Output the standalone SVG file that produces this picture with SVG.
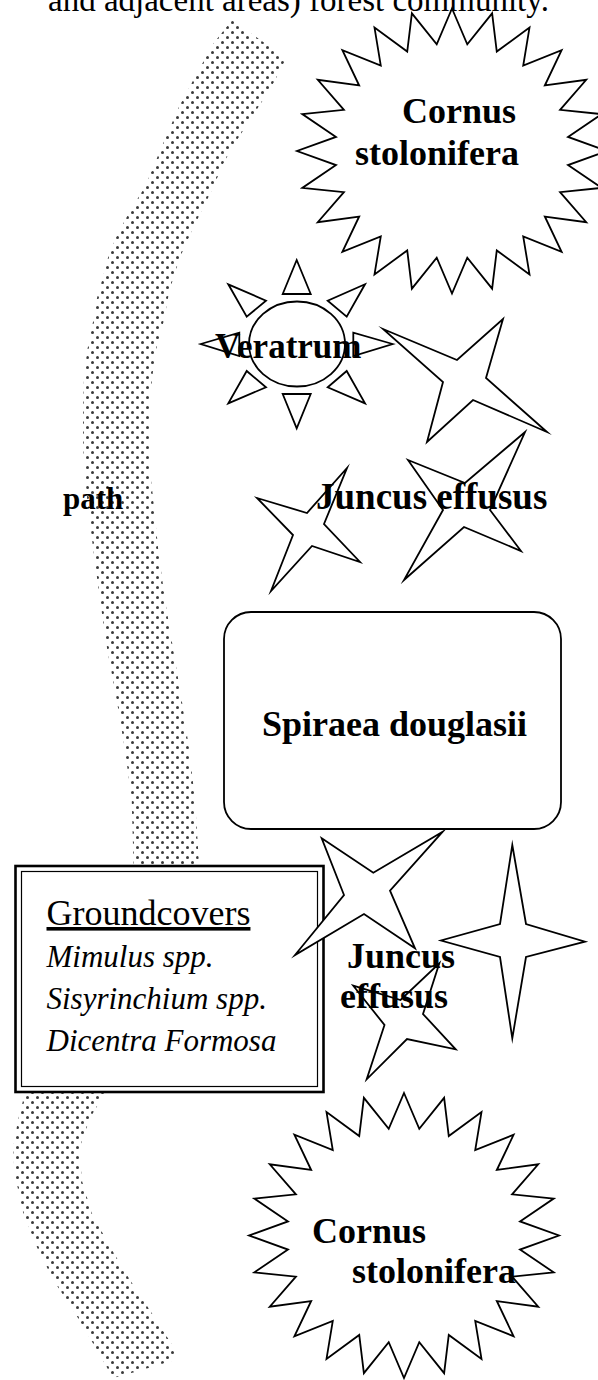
<svg xmlns="http://www.w3.org/2000/svg" xmlns:xlink="http://www.w3.org/1999/xlink" width="598" height="1380" viewBox="0 0 598 1380">
<style>
.sh{fill:#fff;stroke:#000;stroke-width:1.8;stroke-linejoin:miter;stroke-miterlimit:10}
.lb{font-family:"Liberation Serif","Times New Roman",serif;font-weight:bold;fill:#000}
.rg{font-family:"Liberation Serif","Times New Roman",serif;fill:#000}
.it{font-family:"Liberation Serif","Times New Roman",serif;font-style:italic;fill:#000}
</style>
<defs>
<pattern id="dots" width="10" height="10" patternUnits="userSpaceOnUse">
<circle cx="2.5" cy="2.5" r="1.5" fill="#3a3a3a"/>
<circle cx="7.5" cy="7.5" r="1.5" fill="#3a3a3a"/>
</pattern>
<polygon id="burst" points="0,-142.5 15.27,-106.68 40.12,-137.65 44.77,-99.41 77.5,-123.41 71.22,-85.36 109.6,-100.76 92.82,-65.5 134.23,-71.25 108.09,-41.18 149.72,-36.88 116,-14.05 155,0 116,14.05 149.72,36.88 108.09,41.18 134.23,71.25 92.82,65.5 109.6,100.76 71.22,85.36 77.5,123.41 44.77,99.41 40.12,137.65 15.27,106.68 0,142.5 -15.27,106.68 -40.12,137.65 -44.77,99.41 -77.5,123.41 -71.22,85.36 -109.6,100.76 -92.82,65.5 -134.23,71.25 -108.09,41.18 -149.72,36.88 -116,14.05 -155,0 -116,-14.05 -149.72,-36.88 -108.09,-41.18 -134.23,-71.25 -92.82,-65.5 -109.6,-100.76 -71.22,-85.36 -77.5,-123.41 -44.77,-99.41 -40.12,-137.65 -15.27,-106.68"/>
</defs>

<g id="caption">
<text class="rg" x="48" y="11" font-size="33">and adjacent areas) forest community.</text>
</g>

<g id="path-band">
<path fill="url(#dots)" stroke="none" d="M232,20 L213.6,43.3 L196,75 L179,106.7 L162,146 L145,186.7 L130,211 L118,233 L109,254 L103,276.7 L97,298 L93.4,320 L87.3,350 L84,375 L83.3,400 L83,425 L83.3,450 L85,475 L87.3,500 L93.3,550 L100,600 L107.3,650 L116.7,700 L125,750 L131.7,800 L134,880 L80,980 L30,1080 L25,1093 L18,1120 L13.3,1146.7 L14,1165 L16,1180 L23.3,1213 L36.7,1246.7 L53.3,1280 L75,1313 L95,1346.7 L113,1378 L135,1372 L175,1360 L173.3,1346.7 L151.7,1313 L130,1280 L110,1246.7 L91.7,1213 L81.7,1180 L80,1146.7 L90,1118 L105,1093 L115,1075 L160,980 L200,880 L195,800 L189.3,750 L181.7,700 L173.3,650 L165,600 L158.3,550 L153.3,500 L150.5,475 L149.3,450 L149.5,425 L150,400 L152.5,375 L156,350 L164,320 L168,298 L173.5,276.7 L181,255 L190.7,233.3 L202,210 L213.6,186.7 L222,166 L232.6,146.7 L248,123 L263,100 L274,82 L282,66.7 L286,58 Z"/>
<text class="lb" x="63" y="509" font-size="31">path</text>
</g>

<g id="groundcovers">
<rect x="15.5" y="866" width="308" height="226" fill="#fff" stroke="#000" stroke-width="2.6"/>
<rect x="21.5" y="871.5" width="296" height="215" fill="none" stroke="#000" stroke-width="1.2"/>
<text class="rg" x="46.5" y="925" font-size="36" text-decoration="underline">Groundcovers</text>
<text class="it" x="46.5" y="967" font-size="31">Mimulus spp.</text>
<text class="it" x="46.5" y="1009" font-size="31">Sisyrinchium spp.</text>
<text class="it" x="46.5" y="1051" font-size="31">Dicentra Formosa</text>
</g>

<g id="cornus-top">
<use xlink:href="#burst" href="#burst" class="sh" transform="translate(452,151)"/>
<text class="lb" x="402" y="123" font-size="36">Cornus</text>
<text class="lb" x="355" y="165" font-size="36">stolonifera</text>
</g>

<g id="veratrum">
<ellipse class="sh" cx="297" cy="344" rx="48" ry="42.5"/>
<polygon class="sh" points="296.7,260 282.7,294 310.7,294"/>
<polygon class="sh" points="296.7,428.3 282.7,394 310.7,394"/>
<polygon class="sh" points="200.7,344 239.3,332.7 239.3,356"/>
<polygon class="sh" points="392.7,344 353.3,332.7 353.3,356"/>
<polygon class="sh" points="228.3,284.3 266,300.7 246.7,316.7"/>
<polygon class="sh" points="365,284.3 327.7,300.7 346.7,316.7"/>
<polygon class="sh" points="228.3,403.3 266,387.3 246.7,371"/>
<polygon class="sh" points="365,403.3 327.7,387.3 346.7,371"/>
<text class="lb" x="215" y="358" font-size="35">Veratrum</text>
</g>

<g id="star-upper">
<polygon class="sh" points="383,329 457,360 503,319 486,378 547,432 473,400 427,442 443,382"/>
</g>

<g id="juncus-upper">
<polygon class="sh" points="257,498 307,513 347,468 324,524 360,562 312,546 271,591 293,535"/>
<polygon class="sh" points="408,460 465,483 525,432 490,510 521,551 464,527 404,580 443,510"/>
<text class="lb" x="316" y="509" font-size="37">Juncus effusus</text>
</g>

<g id="spiraea">
<rect class="sh" x="224" y="612" width="337" height="217" rx="27" ry="27" stroke-width="2"/>
<text class="lb" x="262" y="736" font-size="36">Spiraea douglasii</text>
</g>

<g id="juncus-lower">
<polygon class="sh" points="321.7,838.3 373.3,872.7 442.7,831.7 390,890.7 415,948.3 364,914 295,955 344,895"/>
<polygon class="sh" points="512.3,845 526,924 585,941.7 526,957 512.3,1038.3 500,957 441,940.5 500,924"/>
<polygon class="sh" points="353.3,985.7 400.5,1000 439.3,963.3 423,1014 455.7,1049.3 407,1039 366.7,1079.3 384.5,1025"/>
<text class="lb" x="347" y="968" font-size="36">Juncus</text>
<text class="lb" x="340" y="1008" font-size="36">effusus</text>
</g>

<g id="cornus-bottom">
<use xlink:href="#burst" href="#burst" class="sh" transform="translate(404,1235.5)"/>
<text class="lb" x="312" y="1243" font-size="36">Cornus</text>
<text class="lb" x="352" y="1283" font-size="36">stolonifera</text>
</g>

<g id="connectors"></g>
</svg>
